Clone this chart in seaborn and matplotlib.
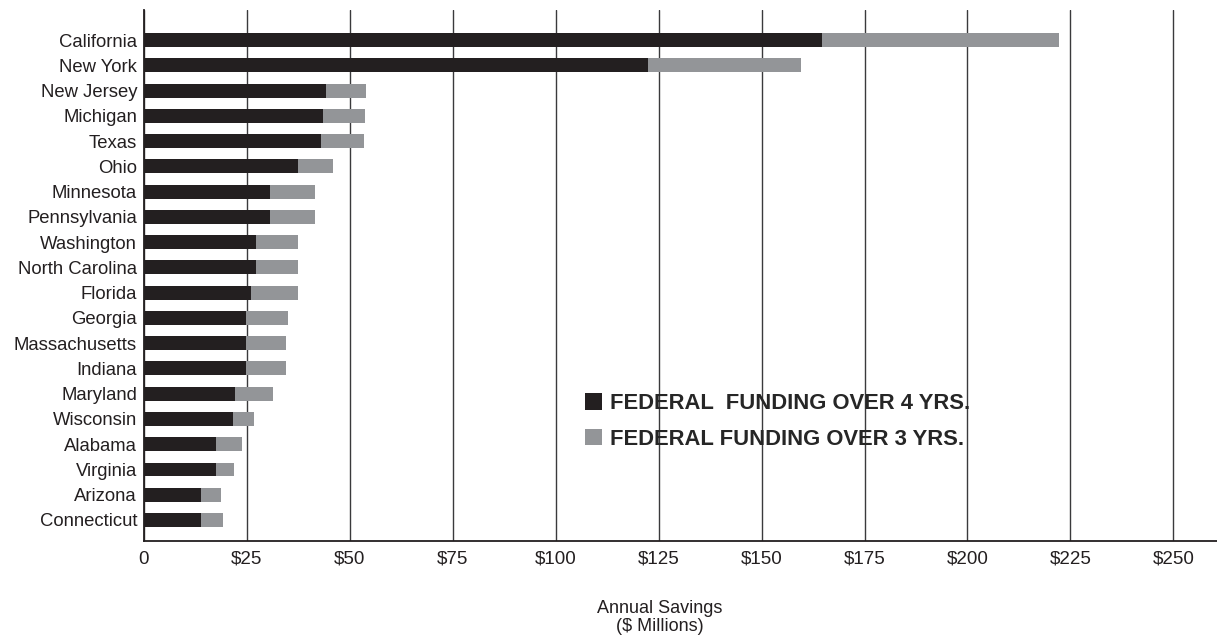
import numpy as np
import pandas as pd
import matplotlib
matplotlib.use('Agg')
import matplotlib.pyplot as plt
import seaborn as sns
from matplotlib.patches import Patch

# 数据（从图中读取，单位：百万美元）
states = ['California', 'New York', 'New Jersey', 'Michigan', 'Texas', 'Ohio',
          'Minnesota', 'Pennsylvania', 'Washington', 'North Carolina', 'Florida',
          'Georgia', 'Massachusetts', 'Indiana', 'Maryland', 'Wisconsin',
          'Alabama', 'Virginia', 'Arizona', 'Connecticut']
# 黑色部分：4年联邦资助
over_4_yrs = [164.6, 122.3, 44.1, 43.4, 43.1, 37.3, 30.7, 30.7, 27.1, 27.3,
              26.1, 24.9, 24.9, 24.9, 22.2, 21.7, 17.6, 17.6, 13.9, 13.9]
# 灰色部分末端：3年联邦资助
over_3_yrs = [222.2, 159.6, 53.9, 53.6, 53.4, 46.0, 41.6, 41.6, 37.3, 37.3,
              37.3, 35.1, 34.4, 34.4, 31.4, 26.8, 23.8, 21.9, 18.7, 19.3]
x_ticks = [0, 25, 50, 75, 100, 125, 150, 175, 200, 225, 250]
x_tick_labels = ['0', '$25', '$50', '$75', '$100', '$125', '$150', '$175',
                 '$200', '$225', '$250']
legend_labels = ['FEDERAL  FUNDING OVER 4 YRS.', 'FEDERAL FUNDING OVER 3 YRS.']

dark = '#231f20'
gray = '#939598'

sns.set_style('white')
plt.rcParams['font.family'] = ['Liberation Sans', 'DejaVu Sans']

df = pd.DataFrame({'state': states, 'four': over_4_yrs, 'three': over_3_yrs})

fig = plt.figure(figsize=(12.17, 6.44), dpi=100)
ax = fig.add_axes([0.1183, 0.16, 0.8817, 0.8245])

# 先画灰色（总长），再叠加黑色
sns.barplot(data=df, x='three', y='state', orient='h', color=gray,
            saturation=1, width=0.55, linewidth=0, ax=ax)
sns.barplot(data=df, x='four', y='state', orient='h', color=dark,
            saturation=1, width=0.55, linewidth=0, ax=ax)

ax.set_xlim(0, 260.6)
ax.set_ylim(19.83, -1.19)
ax.set_xticks(x_ticks)
ax.set_xticklabels(x_tick_labels)
ax.tick_params(axis='x', length=0, pad=7, labelsize=13.5, colors=dark)
ax.tick_params(axis='y', length=0, pad=5, labelsize=13.3, colors=dark)
ax.set_ylabel('')

ax.grid(axis='x', color='#3a3a3c', linewidth=1.0)
ax.grid(axis='y', visible=False)
ax.set_axisbelow(True)

for side in ['top', 'right']:
    ax.spines[side].set_visible(False)
for side in ['left', 'bottom']:
    ax.spines[side].set_color(dark)
    ax.spines[side].set_linewidth(1.3)

ax.set_xlabel('Annual Savings\n($ Millions)', fontsize=13, color=dark,
              linespacing=1.12)
ax.xaxis.set_label_coords(0.481, -0.111)

handles = [Patch(facecolor=dark, edgecolor='none'),
           Patch(facecolor=gray, edgecolor='none')]
ax.legend(handles, legend_labels, loc='upper left',
          bbox_to_anchor=(0.4006, 0.2987), frameon=False, borderpad=0,
          handlelength=0.8, handleheight=0.8, handletextpad=0.35,
          labelspacing=0.65, prop={'weight': 'bold', 'size': 15.8})

fig.savefig('out.png', dpi=100)
